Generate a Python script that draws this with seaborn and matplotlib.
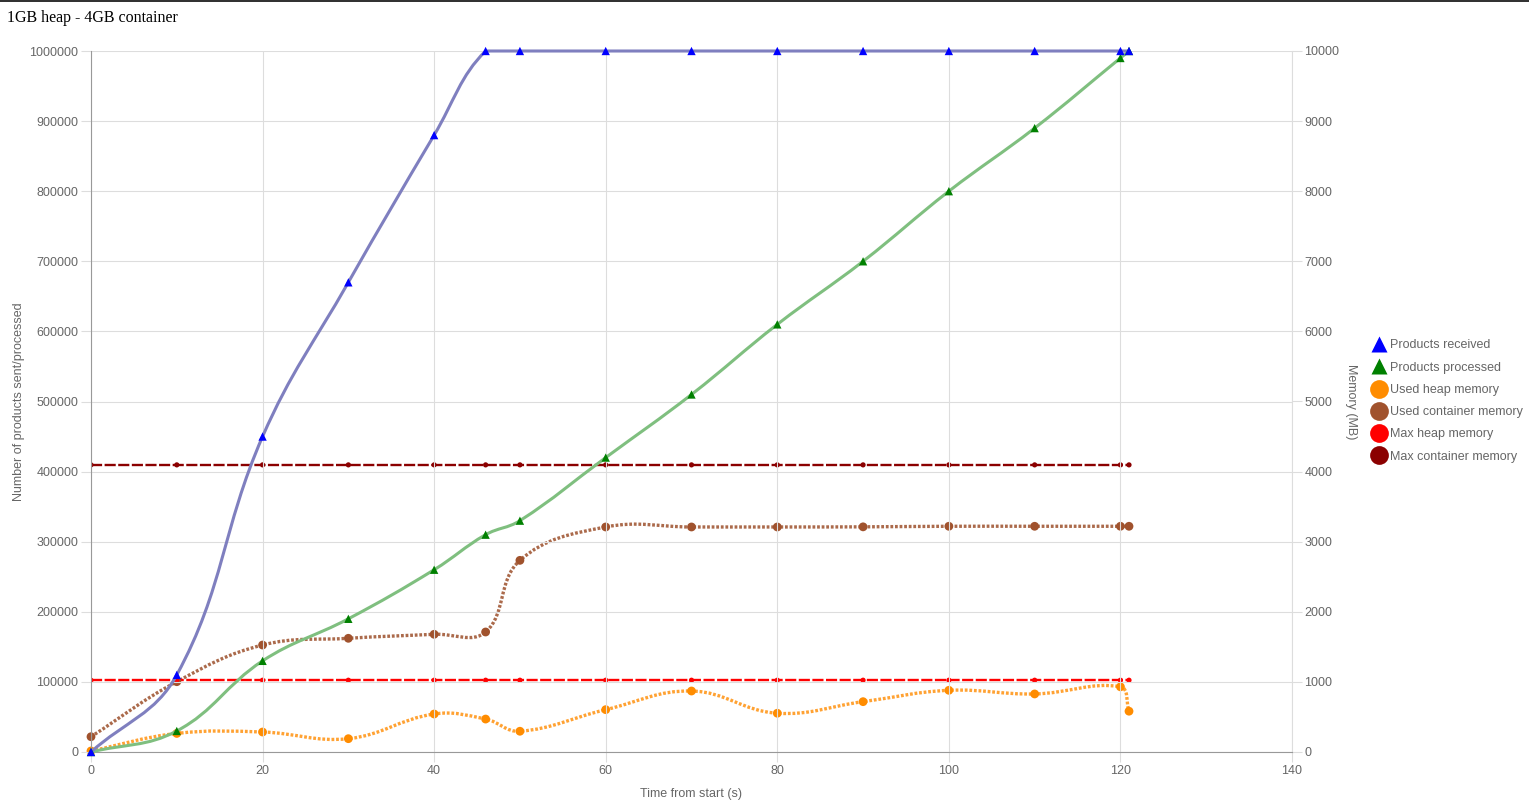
import numpy as np
import pandas as pd
import matplotlib
matplotlib.use("Agg")
import matplotlib.pyplot as plt
from matplotlib.path import Path
from matplotlib.patches import PathPatch, Rectangle
from matplotlib.lines import Line2D
import seaborn as sns

# data
time_s = [0, 10, 20, 30, 40, 46, 50, 60, 70, 80, 90, 100, 110, 120, 121]
received = [0, 110000, 450000, 670000, 880000, 1000000, 1000000, 1000000, 1000000,
            1000000, 1000000, 1000000, 1000000, 1000000, 1000000]
processed = [0, 30000, 130000, 190000, 260000, 310000, 330000, 420000, 510000,
             610000, 700000, 800000, 890000, 990000, 1000000]
used_heap = [15, 265, 285, 190, 542, 470, 296, 604, 870, 553, 718, 880, 828, 930, 582]
used_container = [218, 1003, 1526, 1622, 1679, 1712, 2734, 3210, 3210, 3210, 3212,
                  3220, 3220, 3220, 3220]
max_heap = [1024] * len(time_s)
max_container = [4096] * len(time_s)

x_ticks = [0, 20, 40, 60, 80, 100, 120, 140]
left_ticks = [0, 100000, 200000, 300000, 400000, 500000, 600000, 700000, 800000, 900000, 1000000]
right_ticks = [0, 1000, 2000, 3000, 4000, 5000, 6000, 7000, 8000, 9000, 10000]

W, H = 1529, 807
L, R, T, B = 91, 1292, 51, 752
XLIM = (0, 140)
YLIM_L = (0, 1000000)
YLIM_R = (0, 10000)
TICK_COL = "#666666"

plt.rcParams["font.family"] = ["Liberation Sans", "DejaVu Sans"]
plt.rcParams["lines.scale_dashes"] = False


def smooth_path(xs, ys, sx, sy, ylim, tension=0.4):
    # chart.js style bezier spline, distances measured in pixels
    pts = np.column_stack([xs, ys]).astype(float)
    n = len(pts)
    cp_in, cp_out = [], []
    for i in range(n):
        prev = pts[max(i - 1, 0)]
        cur = pts[i]
        nxt = pts[min(i + 1, n - 1)]
        d01 = np.hypot((cur[0] - prev[0]) * sx, (cur[1] - prev[1]) * sy)
        d12 = np.hypot((nxt[0] - cur[0]) * sx, (nxt[1] - cur[1]) * sy)
        tot = d01 + d12
        s01 = d01 / tot if tot else 0
        s12 = d12 / tot if tot else 0
        diff = nxt - prev
        a = cur - tension * s01 * diff
        b = cur + tension * s12 * diff
        a[1] = np.clip(a[1], *ylim)
        b[1] = np.clip(b[1], *ylim)
        cp_in.append(a)
        cp_out.append(b)
    verts = [pts[0]]
    codes = [Path.MOVETO]
    for i in range(1, n):
        verts += [cp_out[i - 1], cp_in[i], pts[i]]
        codes += [Path.CURVE4] * 3
    return Path(verts, codes)


fig = plt.figure(figsize=(W / 100, H / 100), dpi=100)
ax = fig.add_axes([L / W, 1 - B / H, (R - L) / W, (B - T) / H])
ax2 = ax.twinx()

sx = (R - L) / (XLIM[1] - XLIM[0])
sy_l = (B - T) / (YLIM_L[1] - YLIM_L[0])
sy_r = (B - T) / (YLIM_R[1] - YLIM_R[0])

df = pd.DataFrame({"t": time_s, "received": received, "processed": processed,
                   "used_heap": used_heap, "used_container": used_container,
                   "max_heap": max_heap, "max_container": max_container})

# memory series on the right axis
for col, lc, ls, lw, z in [("used_heap", "#ffa233", (0, (2.0, 1.3)), 2.4, 2),
                           ("used_container", "#ab6a4b", (0, (2.0, 1.3)), 2.4, 3)]:
    p = smooth_path(df["t"], df[col], sx, sy_r, YLIM_R)
    ax2.add_patch(PathPatch(p, fill=False, edgecolor=lc, lw=lw, linestyle=ls, zorder=z,
                            capstyle="butt"))

sns.lineplot(data=df, x="t", y="max_heap", ax=ax2, color="#ff0000", lw=1.7,
             linestyle=(0, (8.0, 1.8)), zorder=4)
sns.lineplot(data=df, x="t", y="max_container", ax=ax2, color="#8b0000", lw=1.7,
             linestyle=(0, (8.0, 1.8)), zorder=4)

sns.scatterplot(data=df, x="t", y="used_heap", ax=ax2, marker="o", s=40,
                color="#ff8c00", edgecolor="none", zorder=6, clip_on=False)
sns.scatterplot(data=df, x="t", y="used_container", ax=ax2, marker="o", s=40,
                color="#a0522d", edgecolor="none", zorder=6, clip_on=False)
sns.scatterplot(data=df, x="t", y="max_heap", ax=ax2, marker="o", s=14,
                color="#ff0000", edgecolor="none", zorder=6)
sns.scatterplot(data=df, x="t", y="max_container", ax=ax2, marker="o", s=14,
                color="#8b0000", edgecolor="none", zorder=6)

# product counts on the left axis, drawn on top
ax.set_zorder(ax2.get_zorder() + 1)
ax.patch.set_visible(False)
for col, lc, z in [("processed", "#7fbf7f", 3), ("received", "#7f7fbf", 4)]:
    p = smooth_path(df["t"], df[col], sx, sy_l, YLIM_L)
    ax.add_patch(PathPatch(p, fill=False, edgecolor=lc, lw=2.2, zorder=z,
                           capstyle="round", joinstyle="round", clip_on=False))
sns.scatterplot(data=df, x="t", y="processed", ax=ax, marker="^", s=36,
                color="#008000", edgecolor="none", zorder=6, clip_on=False)
sns.scatterplot(data=df, x="t", y="received", ax=ax, marker="^", s=36,
                color="#0000ff", edgecolor="none", zorder=7, clip_on=False)

# axes styling
ax.set_xlim(*XLIM)
ax.set_ylim(*YLIM_L)
ax2.set_ylim(*YLIM_R)
ax.set_xticks(x_ticks)
ax.set_xticklabels([str(v) for v in x_ticks])
ax.set_yticks(left_ticks)
ax.set_yticklabels([str(v) for v in left_ticks])
ax2.set_yticks(right_ticks)
ax2.set_yticklabels([str(v) for v in right_ticks])

ax.grid(True, color="#dddddd", lw=0.8)
ax.set_axisbelow(True)
for a in (ax, ax2):
    for s in a.spines.values():
        s.set_visible(False)
    a.tick_params(colors=TICK_COL, labelsize=9, length=7, width=0.8, pad=2)
    a.tick_params(axis="both", color="#dddddd")
ax.spines["left"].set_visible(True)
ax.spines["left"].set_color("#999999")
ax.spines["bottom"].set_visible(True)
ax.spines["bottom"].set_color("#999999")
ax2.spines["right"].set_visible(True)
ax2.spines["right"].set_color("#dddddd")

ax.set_xlabel("Time from start (s)", color=TICK_COL, fontsize=9, labelpad=8)
ax.set_ylabel("Number of products sent/processed", color=TICK_COL, fontsize=9, labelpad=3)
ax2.set_ylabel("Memory (MB)", color=TICK_COL, fontsize=9, rotation=270, labelpad=12.5)

fig.text(7 / W, 1 - 18 / H, "1GB heap - 4GB container", family=["Liberation Serif", "DejaVu Serif"],
         fontsize=11.5, color="#000000", va="center", ha="left")
fig.add_artist(Rectangle((0, 1 - 2 / H), 1, 2 / H, transform=fig.transFigure,
                         color="#333333", lw=0))

handles = [
    Line2D([], [], ls="", marker="^", ms=12, color="#0000ff", mec="none"),
    Line2D([], [], ls="", marker="^", ms=12, color="#008000", mec="none"),
    Line2D([], [], ls="", marker="o", ms=13.5, color="#ff8c00", mec="none"),
    Line2D([], [], ls="", marker="o", ms=13.5, color="#a0522d", mec="none"),
    Line2D([], [], ls="", marker="o", ms=13.5, color="#ff0000", mec="none"),
    Line2D([], [], ls="", marker="o", ms=13.5, color="#8b0000", mec="none"),
]
labels = ["Products received", "Products processed", "Used heap memory",
          "Used container memory", "Max heap memory", "Max container memory"]
fig.legend(handles, labels, loc="center left", bbox_to_anchor=(1373 / W, 1 - 401 / H),
           frameon=False, fontsize=9, labelcolor=TICK_COL, handlelength=1.0,
           handletextpad=0.35, labelspacing=0.82, borderaxespad=0, borderpad=0)

fig.savefig("out.png", dpi=100)
